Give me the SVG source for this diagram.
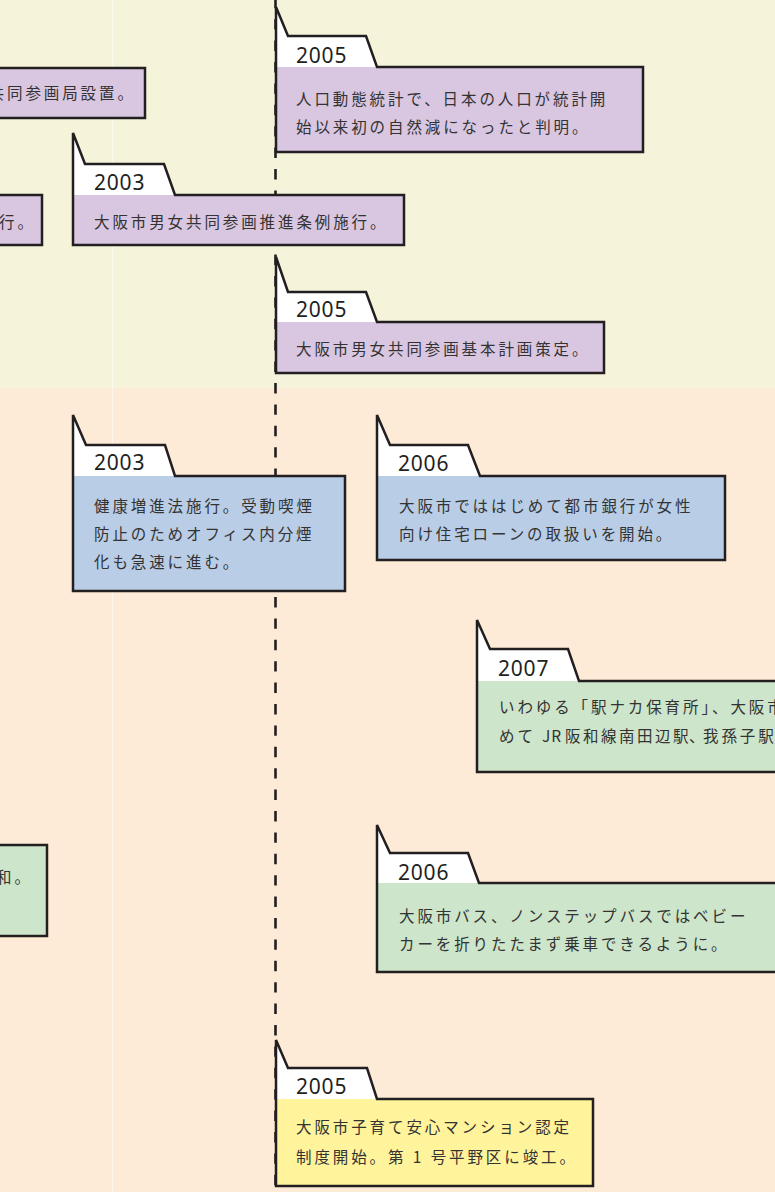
<svg xmlns="http://www.w3.org/2000/svg" width="775" height="1192" viewBox="0 0 775 1192">
<style>
.out{fill:none;stroke:#231F20;stroke-width:2.5;stroke-linejoin:miter}
.tab{fill:#fff}
.pur{fill:#D9C6E1}
.blu{fill:#B9CDE7}
.grn{fill:#CDE5CA}
.yel{fill:#FFF39B}
.yr{font-family:"Noto Sans","Open Sans","DejaVu Sans",sans-serif;font-size:21px;fill:#231F20;letter-spacing:0.8px}
.bd{font-family:"Noto Sans CJK JP","Noto Sans CJK SC",sans-serif;font-size:15.5px;fill:#333;letter-spacing:2.9px}
</style>
<rect x="0" y="0" width="775" height="388" fill="#F5F3DA"/>
<rect x="0" y="388" width="775" height="804" fill="#FEEBD7"/>
<line x1="112.5" y1="0" x2="112.5" y2="1192" stroke="#ffffff" stroke-opacity="0.6" stroke-width="1"/>
<g id="connectors">
<line x1="275.5" y1="0" x2="275.5" y2="1192" stroke="#231F20" stroke-width="2.6" stroke-dasharray="10.4 11" stroke-dashoffset="2.2"/>
</g>
<g id="n-left-1">
<rect class="pur" x="-10" y="68" width="155" height="50"/>
<rect class="out" x="-10" y="68" width="155" height="50"/>
<text class="bd" x="-11.4" y="99">共同参画局設置。</text>
</g>
<g id="n-left-2">
<rect class="pur" x="-10" y="195" width="52" height="50"/>
<rect class="out" x="-10" y="195" width="52" height="50"/>
<text class="bd" x="-1" y="228">行。</text>
</g>
<g id="n-left-3">
<rect class="grn" x="-10" y="845" width="57" height="91"/>
<rect class="out" x="-10" y="845" width="57" height="91"/>
<text class="bd" x="-4" y="883">和。</text>
</g>
<g id="n2005a">
<path class="tab" d="M276,7 L288,36 L366,36 L377,67 L643,67 L643,152 L276,152 Z"/>
<rect class="pur" x="276" y="67" width="367" height="85"/>
<path class="out" d="M276,7 L288,36 L366,36 L377,67 L643,67 L643,152 L276,152 Z"/>
<text class="yr" x="296" y="63">2005</text>
<text class="bd" x="296" y="105">人口動態統計で、日本の人口が統計開</text>
<text class="bd" x="296" y="133">始以来初の自然減になったと判明。</text>
</g>
<g id="n2003a">
<path class="tab" d="M73,133 L85,164 L164,164 L175,195 L404,195 L404,245 L73,245 Z"/>
<rect class="pur" x="73" y="195" width="331" height="50"/>
<path class="out" d="M73,133 L85,164 L164,164 L175,195 L404,195 L404,245 L73,245 Z"/>
<text class="yr" x="94" y="190">2003</text>
<text class="bd" x="94" y="228">大阪市男女共同参画推進条例施行。</text>
</g>
<g id="n2005b">
<path class="tab" d="M276,257 L288,292 L366,292 L377,322 L604,322 L604,373 L276,373 Z"/>
<rect class="pur" x="276" y="322" width="328" height="51"/>
<path class="out" d="M276,257 L288,292 L366,292 L377,322 L604,322 L604,373 L276,373 Z"/>
<text class="yr" x="296" y="317">2005</text>
<text class="bd" x="296" y="355">大阪市男女共同参画基本計画策定。</text>
</g>
<g id="n2003b">
<path class="tab" d="M73,415 L86,445 L165,445 L175,476 L345,476 L345,591 L73,591 Z"/>
<rect class="blu" x="73" y="476" width="272" height="115"/>
<path class="out" d="M73,415 L86,445 L165,445 L175,476 L345,476 L345,591 L73,591 Z"/>
<text class="yr" x="94" y="470">2003</text>
<text class="bd" x="94" y="512">健康増進法施行。受動喫煙</text>
<text class="bd" x="94" y="540">防止のためオフィス内分煙</text>
<text class="bd" x="94" y="568">化も急速に進む。</text>
</g>
<g id="n2006a">
<path class="tab" d="M377,415 L390,445 L468,445 L480,476 L725,476 L725,560 L377,560 Z"/>
<rect class="blu" x="377" y="476" width="348" height="84"/>
<path class="out" d="M377,415 L390,445 L468,445 L480,476 L725,476 L725,560 L377,560 Z"/>
<text class="yr" x="398" y="471">2006</text>
<text class="bd" x="399" y="512">大阪市でははじめて都市銀行が女性</text>
<text class="bd" x="399" y="540">向け住宅ローンの取扱いを開始。</text>
</g>
<g id="n2007">
<path class="tab" d="M477,620 L490,649 L568,649 L579,681 L790,681 L790,772 L477,772 Z"/>
<rect class="grn" x="477" y="681" width="313" height="91"/>
<path class="out" d="M477,620 L490,649 L568,649 L579,681 L790,681 L790,772 L477,772 Z"/>
<text class="yr" x="498" y="676">2007</text>
<text class="bd" x="499" y="713">いわゆる「駅ナカ保育所」、大阪市</text>
<text class="bd" y="742"><tspan x="499">めて</tspan><tspan x="542" style="letter-spacing:1px">JR</tspan><tspan x="565" style="letter-spacing:2.5px">阪和線南田辺駅</tspan><tspan x="689">、</tspan><tspan x="703">我孫子駅</tspan></text>
</g>
<g id="n2006b">
<path class="tab" d="M377,825 L390,853 L468,853 L479,883 L790,883 L790,972 L377,972 Z"/>
<rect class="grn" x="377" y="883" width="413" height="89"/>
<path class="out" d="M377,825 L390,853 L468,853 L479,883 L790,883 L790,972 L377,972 Z"/>
<text class="yr" x="398" y="880">2006</text>
<text class="bd" x="399" y="922">大阪市バス、ノンステップバスではベビー</text>
<text class="bd" x="399" y="950">カーを折りたたまず乗車できるように。</text>
</g>
<g id="n2005c">
<path class="tab" d="M276,1040 L288,1068 L367,1068 L377,1099 L593,1099 L593,1186 L276,1186 Z"/>
<rect class="yel" x="276" y="1099" width="317" height="87"/>
<path class="out" d="M276,1040 L288,1068 L367,1068 L377,1099 L593,1099 L593,1186 L276,1186 Z"/>
<text class="yr" x="296" y="1094">2005</text>
<text class="bd" x="296" y="1133">大阪市子育て安心マンション認定</text>
<text class="bd" x="296" y="1163">制度開始。第 1 号平野区に竣工。</text>
</g>
</svg>
